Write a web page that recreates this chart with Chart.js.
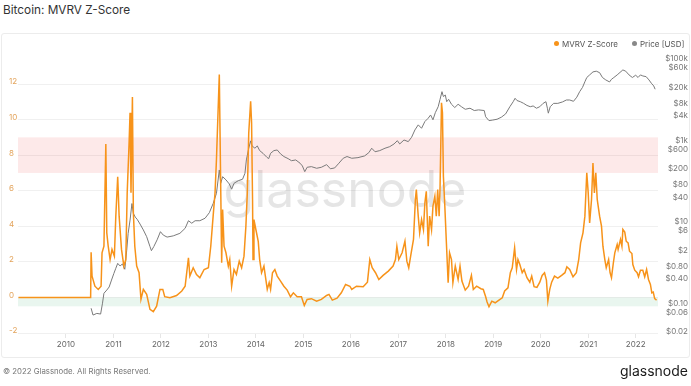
<!DOCTYPE html>
<html lang="en">
<head>
  <meta charset="UTF-8">
  <title>Bitcoin: MVRV Z-Score</title>
  <script src="https://cdn.jsdelivr.net/npm/chart.js"></script>
  <style>
    body {
      margin: 0;
      width: 691px;
      height: 386px;
      background: #fff;
      font-family: Inter, "Noto Sans", sans-serif;
      position: relative;
      overflow: hidden;
    }
    #titulo {
      position: absolute;
      left: 3px;
      top: 3px;
      font-size: 11.8px;
      color: #333;
    }
    #moldura {
      position: absolute;
      left: 1px;
      top: 33px;
      width: 687px;
      height: 323px;
      border: 1px solid #ececec;
      border-radius: 3px;
    }
    canvas {
      position: absolute;
      left: 0;
      top: 0;
    }
    .legenda {
      position: absolute;
      top: 39px;
      font-size: 8px;
      color: #555;
      line-height: 10px;
    }
    .legenda i {
      display: inline-block;
      width: 5px;
      height: 5px;
      border-radius: 50%;
      margin-right: 3px;
      vertical-align: 1px;
    }
    #rodape {
      position: absolute;
      left: 3px;
      top: 366px;
      font-size: 7.8px;
      color: #777;
    }
    #logo {
      position: absolute;
      right: 3px;
      top: 362px;
      font-size: 14px;
      font-weight: 400;
      color: #1a1a1a;
    }
  </style>
</head>
<body>
  <div id="titulo">Bitcoin: MVRV Z-Score</div>
  <div id="moldura"></div>
  <canvas id="grafico" width="691" height="386"></canvas>
  <div class="legenda" style="left:554px"><i style="background:#f7931a"></i>MVRV Z-Score</div>
  <div class="legenda" style="left:632px"><i style="background:#888"></i>Price [USD]</div>
  <div id="rodape">© 2022 Glassnode. All Rights Reserved.</div>
  <div id="logo">glassnode</div>

  <script>
    // datas em anos decimais
    const zAnos = [2009.00, 2010.52, 2010.53, 2010.55, 2010.61, 2010.68, 2010.74, 2010.76, 2010.80, 2010.84,
      2010.86, 2010.89, 2010.93, 2010.97, 2011.02, 2011.05, 2011.09, 2011.12, 2011.17, 2011.22,
      2011.26, 2011.29, 2011.33, 2011.35, 2011.37, 2011.40, 2011.42, 2011.45, 2011.49, 2011.54,
      2011.58, 2011.63, 2011.70, 2011.77, 2011.84, 2011.91, 2011.98, 2012.04, 2012.08, 2012.19,
      2012.33, 2012.44, 2012.51, 2012.58, 2012.61, 2012.68, 2012.75, 2012.82, 2012.91, 2013.00,
      2013.05, 2013.10, 2013.14, 2013.17, 2013.23, 2013.28, 2013.30, 2013.33, 2013.37, 2013.42,
      2013.45, 2013.49, 2013.54, 2013.59, 2013.65, 2013.70, 2013.75, 2013.79, 2013.82, 2013.85,
      2013.89, 2013.91, 2013.93, 2013.94, 2013.96, 2014.00, 2014.05, 2014.08, 2014.12, 2014.17,
      2014.21, 2014.24, 2014.28, 2014.31, 2014.35, 2014.40, 2014.45, 2014.52, 2014.59, 2014.66,
      2014.73, 2014.79, 2014.87, 2014.96, 2015.02, 2015.08, 2015.17, 2015.28, 2015.38, 2015.49,
      2015.54, 2015.61, 2015.71, 2015.80, 2015.89, 2015.98, 2016.02, 2016.12, 2016.26, 2016.35,
      2016.40, 2016.45, 2016.52, 2016.59, 2016.68, 2016.79, 2016.89, 2016.94, 2016.97, 2017.01,
      2017.08, 2017.14, 2017.18, 2017.22, 2017.26, 2017.32, 2017.36, 2017.38, 2017.42, 2017.45,
      2017.49, 2017.53, 2017.56, 2017.59, 2017.63, 2017.66, 2017.70, 2017.73, 2017.77, 2017.80,
      2017.83, 2017.86, 2017.88, 2017.91, 2017.93, 2017.95, 2017.98, 2018.01, 2018.05, 2018.08,
      2018.12, 2018.15, 2018.20, 2018.26, 2018.30, 2018.34, 2018.41, 2018.48, 2018.54, 2018.58,
      2018.65, 2018.74, 2018.79, 2018.84, 2018.87, 2018.91, 2018.97, 2019.04, 2019.12, 2019.19,
      2019.24, 2019.31, 2019.36, 2019.40, 2019.45, 2019.49, 2019.52, 2019.56, 2019.61, 2019.65,
      2019.71, 2019.77, 2019.81, 2019.86, 2019.92, 2019.98, 2020.03, 2020.08, 2020.12, 2020.15,
      2020.19, 2020.23, 2020.29, 2020.36, 2020.44, 2020.51, 2020.55, 2020.61, 2020.68, 2020.75,
      2020.80, 2020.84, 2020.89, 2020.93, 2020.97, 2021.00, 2021.03, 2021.07, 2021.10, 2021.13,
      2021.16, 2021.19, 2021.21, 2021.24, 2021.28, 2021.31, 2021.35, 2021.38, 2021.43, 2021.46,
      2021.49, 2021.53, 2021.56, 2021.61, 2021.63, 2021.68, 2021.71, 2021.73, 2021.77, 2021.80,
      2021.84, 2021.87, 2021.92, 2021.94, 2021.98, 2022.03, 2022.06, 2022.10, 2022.15, 2022.19,
      2022.23, 2022.27, 2022.31, 2022.34, 2022.37, 2022.40, 2022.44];
    const zValores = [0, 0, 2.54, 1.20, 0.63, 0.45, 0.63, 2.51, 2.88, 8.63,
      3.63, 2.88, 2.13, 2.70, 2.32, 4.57, 6.78, 4.57, 2.70, 1.76,
      2.13, 5.88, 8.69, 10.38, 5.88, 11.27, 4.76, 2.88, 1.76, 1.39,
      -0.11, 0.45, 0.17, -0.67, -0.80, -0.49, 0.45, 0.45, 0.04, -0.02,
      0.11, 0.36, 0.63, 2.23, 1.20, 1.67, 1.29, 1.11, 1.57, 1.67,
      2.88, 4.57, 5.88, 7.75, 12.53, 1.95, 4.94, 2.88, 2.51, 1.76,
      2.13, 0.63, 1.57, 1.29, 2.04, 1.67, 2.32, 4.01, 5.88, 9.25,
      11.03, 9.81, 5.51, 2.13, 4.38, 3.82, 3.16, 2.13, 1.39, 1.76,
      1.01, 0.45, 0.83, 0.45, 1.39, 1.57, 1.20, 0.92, 0.63, 0.41,
      0.04, 0.26, 0.04, 0.04, -0.45, -0.11, -0.07, -0.21, -0.11, 0.11,
      0.17, -0.15, -0.04, 0.26, 0.73, 0.63, 0.45, 0.63, 0.60, 0.86,
      2.13, 1.67, 1.39, 1.01, 1.24, 1.48, 1.76, 2.13, 2.88, 2.13,
      2.51, 3.16, 2.04, 1.67, 2.32, 3.26, 5.51, 6.07, 4.57, 3.63,
      4.38, 3.82, 5.32, 5.97, 2.88, 4.57, 3.82, 5.13, 5.69, 4.57,
      6.07, 4.57, 6.25, 10.94, 10.38, 6.81, 5.13, 3.26, 0.83, 2.51,
      2.13, 0.83, 1.76, 1.01, 1.76, 0.92, 0.41, 0.63, 1.24, 0.45,
      0.63, 0.49, 0.45, 0.04, -0.26, -0.52, -0.21, -0.30, -0.15, -0.02,
      0.36, 0.54, 1.39, 1.67, 2.79, 1.57, 2.13, 1.85, 1.39, 1.57,
      1.11, 0.86, 1.20, 0.60, 0.56, 0.86, 1.24, 1.39, 0.97, -0.21,
      0.45, 0.86, 1.20, 1.09, 1.24, 1.39, 1.72, 1.57, 1.16, 1.39,
      2.13, 3.07, 3.63, 4.57, 7.01, 5.88, 4.19, 5.51, 7.56, 5.88,
      7.01, 5.51, 5.13, 4.57, 4.01, 2.88, 2.13, 1.67, 2.13, 1.39,
      1.11, 1.95, 2.51, 2.98, 2.70, 3.26, 2.88, 3.82, 3.67, 3.16,
      3.07, 2.60, 2.47, 1.85, 1.53, 1.39, 1.16, 1.53, 1.53, 1.16,
      1.57, 1.01, 0.73, 0.26, 0.30, -0.07, -0.15];

    const precoAnos = [2010.53, 2010.57, 2010.65, 2010.73, 2010.77, 2010.80, 2010.86, 2010.91, 2010.96, 2011.01,
      2011.05, 2011.09, 2011.14, 2011.19, 2011.24, 2011.28, 2011.31, 2011.35, 2011.39, 2011.42,
      2011.46, 2011.50, 2011.56, 2011.63, 2011.70, 2011.77, 2011.80, 2011.85, 2011.92, 2011.99,
      2012.05, 2012.13, 2012.26, 2012.40, 2012.51, 2012.58, 2012.65, 2012.72, 2012.82, 2012.93,
      2013.02, 2013.10, 2013.17, 2013.23, 2013.26, 2013.30, 2013.37, 2013.44, 2013.49, 2013.54,
      2013.63, 2013.72, 2013.77, 2013.80, 2013.85, 2013.89, 2013.92, 2013.98, 2014.03, 2014.08,
      2014.15, 2014.23, 2014.27, 2014.31, 2014.38, 2014.45, 2014.52, 2014.59, 2014.68, 2014.75,
      2014.84, 2014.93, 2014.98, 2015.03, 2015.08, 2015.17, 2015.28, 2015.38, 2015.49, 2015.57,
      2015.66, 2015.75, 2015.84, 2015.92, 2016.02, 2016.15, 2016.29, 2016.38, 2016.44, 2016.51,
      2016.61, 2016.72, 2016.82, 2016.91, 2016.98, 2017.03, 2017.12, 2017.21, 2017.28, 2017.35,
      2017.42, 2017.49, 2017.56, 2017.63, 2017.68, 2017.73, 2017.78, 2017.84, 2017.88, 2017.92,
      2017.95, 2017.99, 2018.02, 2018.06, 2018.12, 2018.19, 2018.26, 2018.33, 2018.41, 2018.51,
      2018.60, 2018.69, 2018.81, 2018.84, 2018.91, 2018.99, 2019.08, 2019.17, 2019.26, 2019.35,
      2019.42, 2019.46, 2019.50, 2019.57, 2019.64, 2019.71, 2019.78, 2019.84, 2019.91, 2019.98,
      2020.05, 2020.11, 2020.14, 2020.16, 2020.20, 2020.27, 2020.36, 2020.46, 2020.54, 2020.61,
      2020.69, 2020.76, 2020.82, 2020.88, 2020.93, 2020.97, 2021.03, 2021.10, 2021.17, 2021.24,
      2021.30, 2021.37, 2021.45, 2021.49, 2021.54, 2021.61, 2021.73, 2021.79, 2021.86, 2021.93,
      2022.00, 2022.05, 2022.10, 2022.15, 2022.22, 2022.28, 2022.33, 2022.38, 2022.41];
    const precoValores = [0.075, 0.051, 0.056, 0.054, 0.10, 0.175, 0.21, 0.25, 0.37, 0.54,
      0.72, 0.95, 0.82, 0.92, 0.68, 2.0, 5.2, 11, 28, 16,
      13, 11.5, 8.8, 6.3, 4.3, 2.45, 1.95, 2.45, 3.6, 5.7,
      4.7, 4.2, 4.5, 5.2, 6.9, 10.6, 9.2, 10.6, 10.6, 12.2,
      16.7, 28, 50, 187, 88, 128, 107, 85, 63, 88,
      102, 111, 155, 330, 640, 970, 730, 640, 730, 560,
      480, 385, 355, 480, 560, 580, 465, 400, 355, 316,
      330, 275, 235, 170, 218, 226, 206, 218, 253, 200,
      210, 275, 363, 400, 363, 376, 414, 500, 640, 525,
      560, 640, 700, 815, 980, 815, 1020, 930, 1190, 1800,
      2400, 1980, 2900, 3500, 4200, 3200, 4800, 6700, 10200, 15700,
      11900, 13000, 8900, 10200, 7700, 6400, 7700, 6700, 5800, 6150,
      5400, 5600, 5400, 3800, 3050, 3150, 3300, 3700, 4450, 6700,
      8900, 10800, 9500, 8900, 8100, 7200, 6700, 7000, 6150, 6700,
      8100, 8900, 6150, 4650, 6700, 8100, 8100, 8800, 9800, 9800,
      9100, 11500, 15700, 20000, 27500, 35000, 40500, 48000, 50000, 46000,
      35000, 30500, 27200, 31600, 35000, 40500, 53700, 50000, 40500, 35000,
      39800, 35000, 40500, 38200, 36700, 30500, 25300, 21700, 18000];

    const anosTicks = [2010, 2011, 2012, 2013, 2014, 2015, 2016, 2017, 2018, 2019, 2020, 2021, 2022];
    const zTicks = [-2, 0, 2, 4, 6, 8, 10, 12];
    const precoTicks = [100000, 60000, 20000, 8000, 4000, 1000, 600, 200, 80, 40, 10, 6, 2, 0.8, 0.4, 0.1, 0.06, 0.02];
    const faixaVermelha = [7, 9];
    const faixaVerde = [-0.5, 0];

    function formatarPreco(v) {
      if (v >= 1000) return '$' + (v / 1000) + 'k';
      if (v >= 1) return '$' + v;
      return '$' + v.toFixed(2);
    }

    const fundo = {
      id: 'fundo',
      beforeDatasetsDraw(chart) {
        const { ctx, chartArea: a, scales } = chart;
        const y = scales.y;
        ctx.save();
        ctx.fillStyle = 'rgba(240, 70, 70, 0.12)';
        const t1 = y.getPixelForValue(faixaVermelha[1]), b1 = y.getPixelForValue(faixaVermelha[0]);
        ctx.fillRect(a.left, t1, a.right - a.left, b1 - t1);
        ctx.fillStyle = 'rgba(40, 170, 100, 0.1)';
        const t2 = y.getPixelForValue(faixaVerde[1]), b2 = y.getPixelForValue(faixaVerde[0]);
        ctx.fillRect(a.left, t2, a.right - a.left, b2 - t2);
        // marca d'agua
        ctx.font = '400 50px Inter';
        ctx.fillStyle = 'rgba(0, 0, 0, 0.1)';
        ctx.textAlign = 'center';
        ctx.textBaseline = 'alphabetic';
        ctx.fillText('glassnode', 345, 207);
        ctx.restore();
      }
    };

    const ctx = document.getElementById('grafico').getContext('2d');
    const chart = new Chart(ctx, {
      type: 'line',
      data: {
        datasets: [{
          label: 'MVRV Z-Score',
          data: zAnos.map((x, i) => ({ x, y: zValores[i] })),
          borderColor: '#f7931a',
          borderWidth: 1.5,
          pointRadius: 0,
          yAxisID: 'y'
        }, {
          label: 'Price [USD]',
          data: precoAnos.map((x, i) => ({ x, y: precoValores[i] })),
          borderColor: '#7a7a7a',
          borderWidth: 1,
          pointRadius: 0,
          yAxisID: 'preco'
        }]
      },
      options: {
        responsive: false,
        animation: false,
        layout: { padding: { left: 9, right: 3, top: 52, bottom: 0 } },
        plugins: { legend: { display: false }, tooltip: { enabled: false } },
        scales: {
          x: {
            type: 'linear',
            min: 2008.99,
            max: 2022.47,
            afterBuildTicks: s => { s.ticks = anosTicks.map(v => ({ value: v })); },
            afterFit: s => { s.height = 53; },
            ticks: { callback: v => String(v), font: { size: 8, family: 'Inter' }, color: '#666', padding: 2, maxRotation: 0, autoSkip: false },
            grid: { drawOnChartArea: false, tickLength: 5, color: '#e6e6e6' },
            border: { display: false }
          },
          y: {
            position: 'left',
            min: -2,
            max: 13.8,
            afterBuildTicks: s => { s.ticks = zTicks.map(v => ({ value: v })); },
            afterFit: s => { s.width = 9; },
            ticks: { crossAlign: 'far', padding: 0, labelOffset: -2, font: { size: 8, family: 'Inter' }, color: '#e3a45c' },
            grid: { color: '#f0f0f0', drawTicks: false },
            border: { display: false }
          },
          preco: {
            type: 'logarithmic',
            position: 'right',
            min: 0.0185,
            max: 148000,
            afterBuildTicks: s => { s.ticks = precoTicks.map(v => ({ value: v })); },
            afterFit: s => { s.width = 30; },
            ticks: { crossAlign: 'far', callback: formatarPreco, autoSkip: false, font: { size: 8, family: 'Inter' }, color: '#777' },
            grid: { display: false },
            border: { display: false }
          }
        }
      },
      plugins: [fundo]
    });
  </script>
</body>
</html>
